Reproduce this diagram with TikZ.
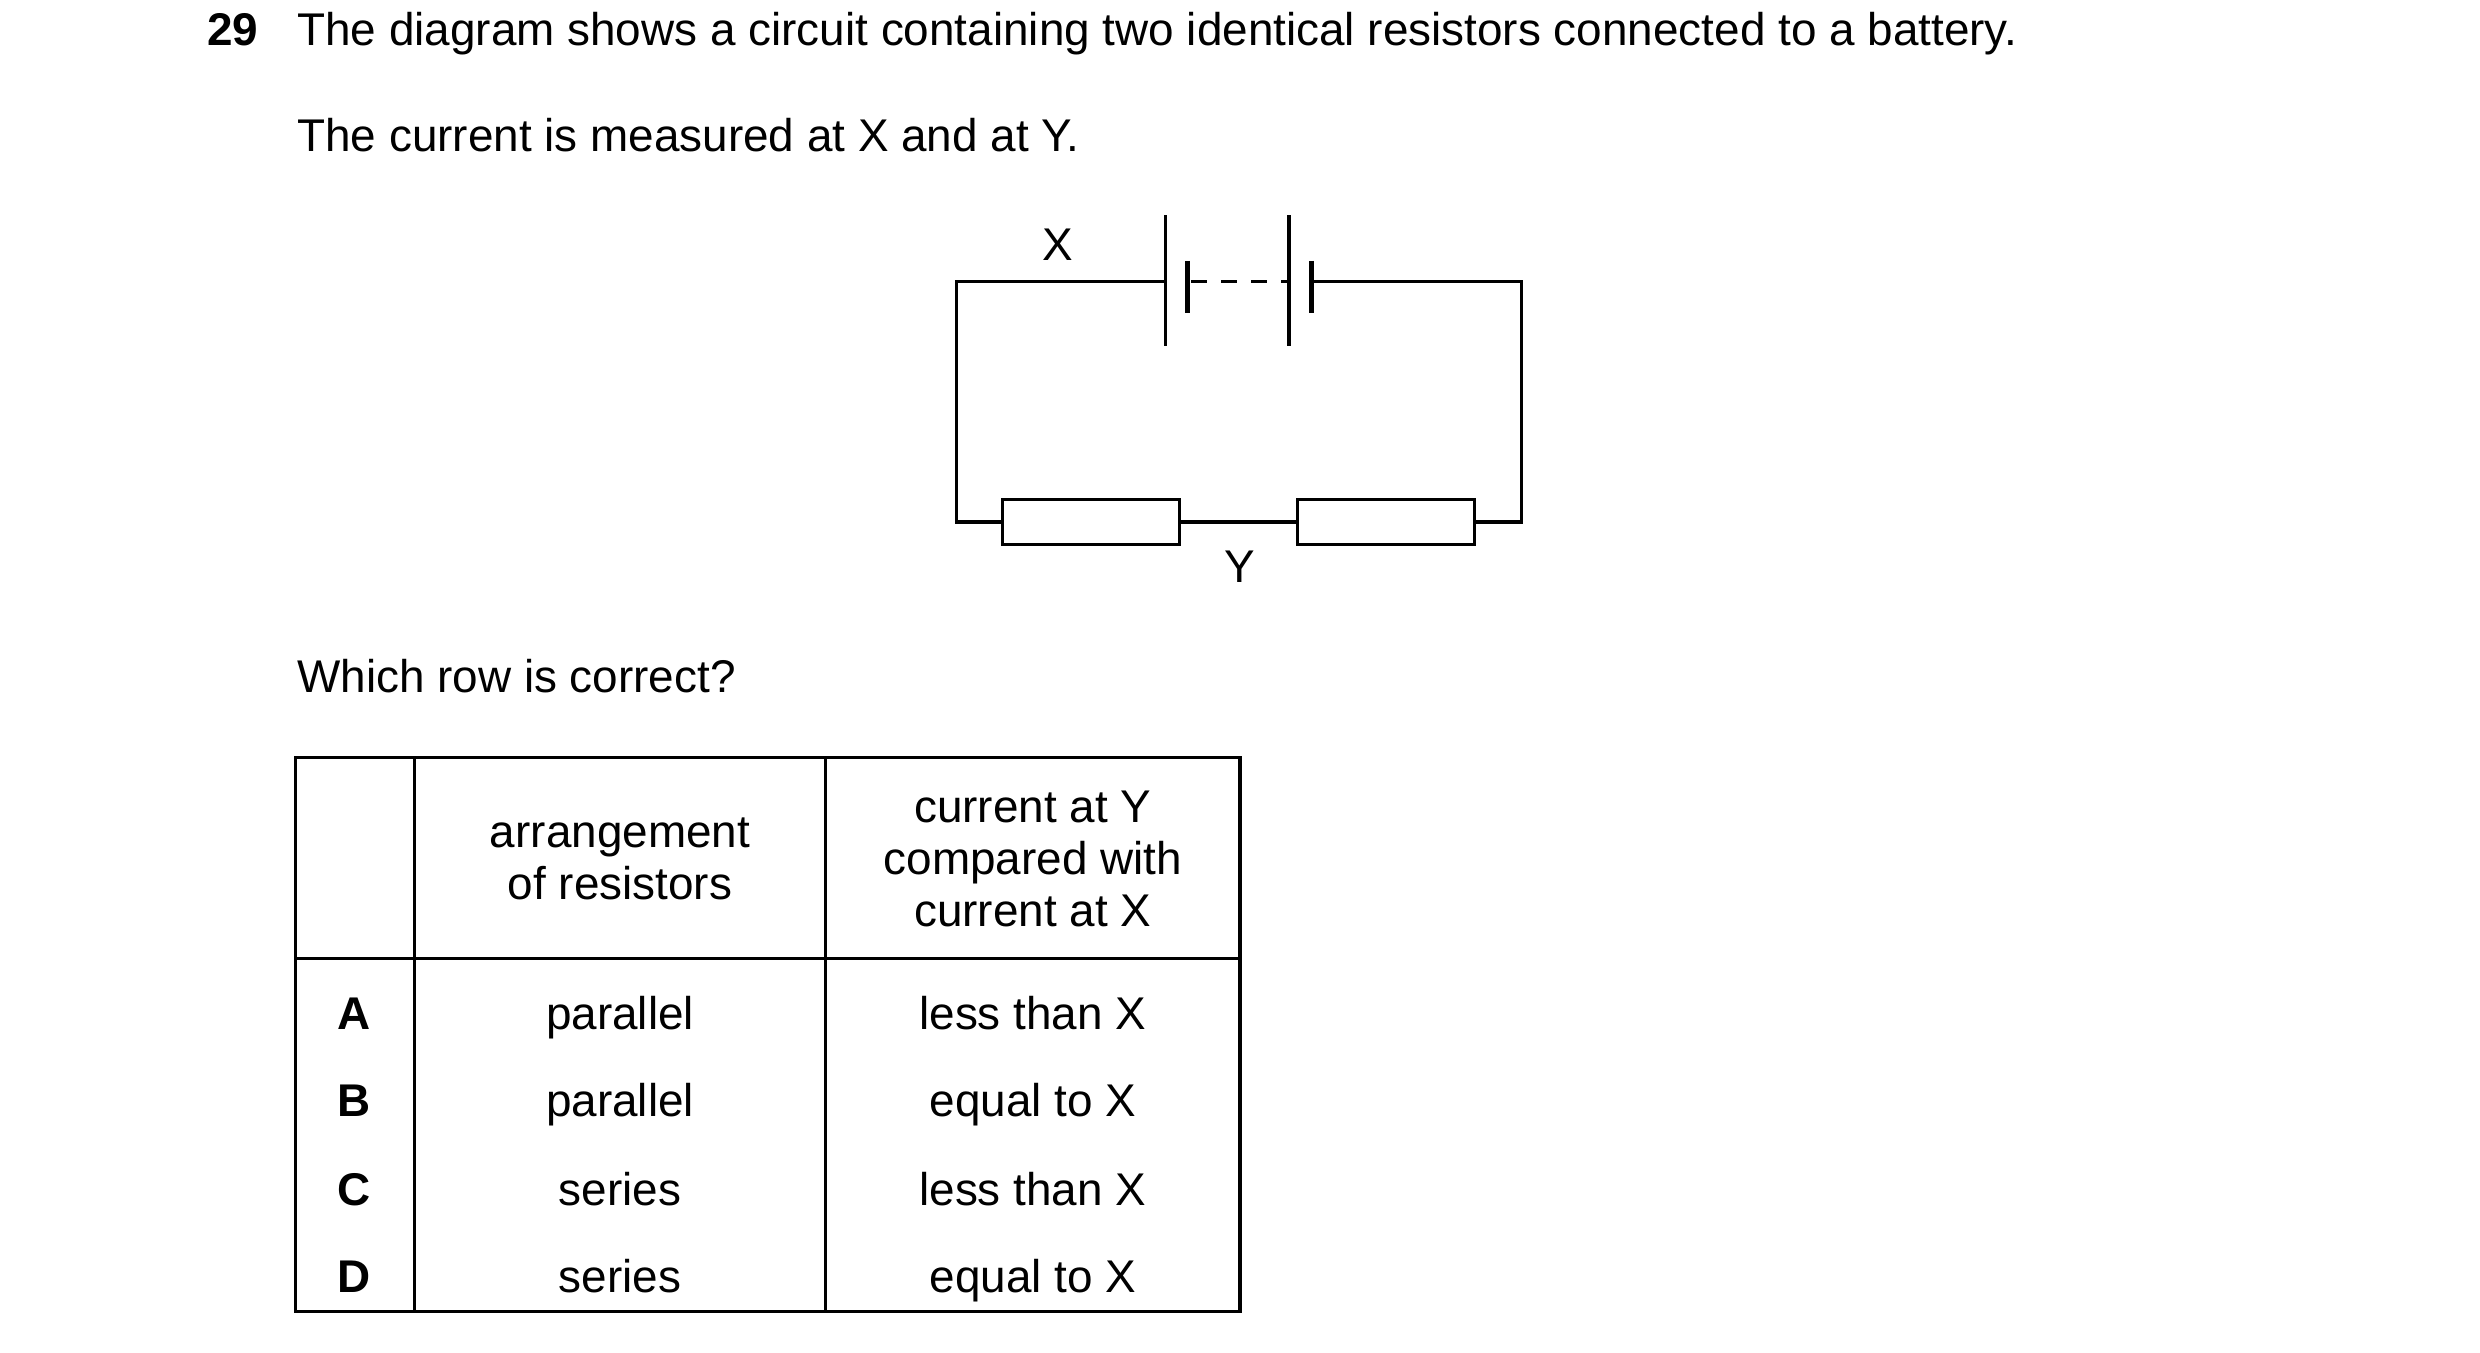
\documentclass[tikz,border=0pt]{standalone}
\usepackage{fontspec}
\setmainfont{Liberation Sans}
\begin{document}
\begin{tikzpicture}[x=1pt,y=-1pt,line width=2pt,
 t/.style={font=\fontsize{29}{34}\selectfont,inner sep=0pt,text height=20pt,text depth=6pt},
 w/.style={line width=2pt},
 res/.style={draw,line width=2pt,minimum width=112pt,minimum height=28pt,inner sep=0pt}]
\useasboundingbox (0,0) rectangle (1568,855);
\node[t,anchor=base west,font=\bfseries\fontsize{29}{34}\selectfont] (n) at (130,29) {29};
\node[t,anchor=base west] (l1) at (187,29) {The diagram shows a circuit containing two identical resistors connected to a battery.};
\node[t,anchor=base west] (l2) at (187,96) {The current is measured at X and at Y.};
\node[t,anchor=base west] (l3) at (187,438) {Which row is correct?};
% circuit
\coordinate (tl) at (605,178); \coordinate (tr) at (962,178);
\coordinate (bl) at (605,330); \coordinate (br) at (962,330);
\node[res] (r1) at (690,330) {};
\node[res] (r2) at (876.5,330) {};
\draw[w] (737,178) -- (tl) -- (bl) -- (r1.west);
\draw[w] (r1.east) -- (r2.west);
\draw[w] (r2.east) -- (br) -- (tr) -- (829,178);
\draw[w] (737,136) -- (737,219);
\draw[line width=3pt] (751,165) -- (751,198);
\draw[w] (815,136) -- (815,219);
\draw[line width=3pt] (829,165) -- (829,198);
\draw[w,dash pattern=on 10pt off 9pt] (753,178) -- (815,178);
\node[t] (X) at (669,158) {X};
\node[t] (Y) at (784,361) {Y};
% table
\draw[w] (187,479) rectangle (784,829);
\draw[w] (262,479) -- (262,829);
\draw[w] (522,479) -- (522,829);
\draw[w] (187,606) -- (784,606);
\node[t,align=center,text height=,text depth=,font=\fontsize{29}{33}\selectfont] (h1) at (392,543) {arrangement\\of resistors};
\node[t,align=center,text height=,text depth=,font=\fontsize{29}{33}\selectfont] (h2) at (653,543) {current at Y\\compared with\\current at X};
\foreach \y/\l/\a/\c in {644/A/parallel/less than X,699/B/parallel/equal to X,755/C/series/less than X,810/D/series/equal to X}{
 \node[t,font=\bfseries\fontsize{29}{34}\selectfont] (k\l) at (224,\y) {\l};
 \node[t] (a\l) at (392,\y) {\a};
 \node[t] (c\l) at (653,\y) {\c};
}
\end{tikzpicture}
\end{document}
